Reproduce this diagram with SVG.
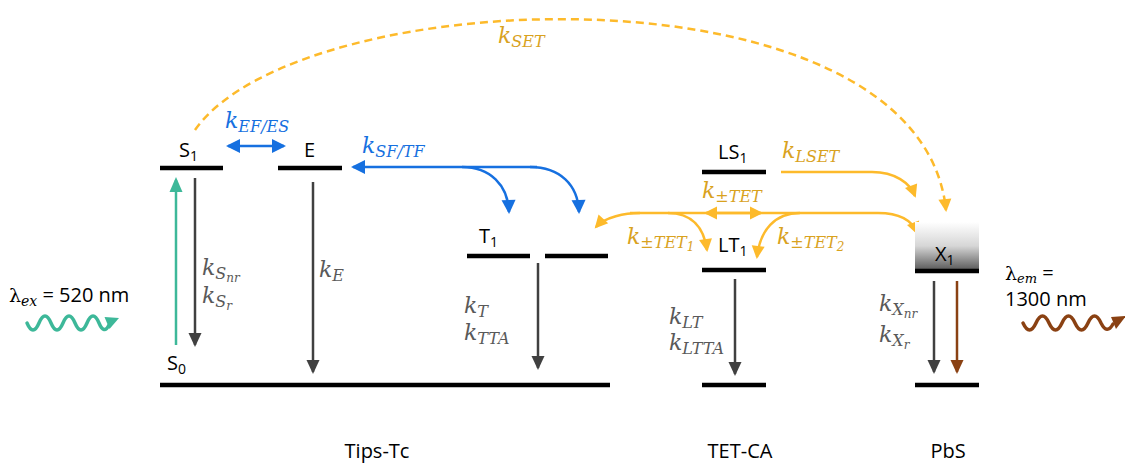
<svg xmlns="http://www.w3.org/2000/svg" width="1125" height="465" viewBox="0 0 1125 465">
<style>
.lvl{stroke:#000;stroke-width:4.5;fill:none}
.lab{font-family:"Open Sans","Noto Sans",sans-serif;font-size:20px;fill:#000}
.m{font-family:"DejaVu Serif","Liberation Serif",serif;font-style:italic;font-size:22px}
.s{font-size:16px}
.ss{font-size:12px}
.gl{fill:#595959}
.ol{fill:#D9A21E}
.bl{fill:#1670E0}
.ga{stroke:#404040;stroke-width:2.5;fill:none}
.oa{stroke:#FDBA2B;stroke-width:2.5;fill:none}
.ba{stroke:#1670E0;stroke-width:2.5;fill:none}
</style>
<defs>
<linearGradient id="xg" x1="0" y1="0" x2="0" y2="1">
<stop offset="0" stop-color="#ffffff"/>
<stop offset="0.5" stop-color="#d6d6d6"/>
<stop offset="1" stop-color="#5a5a5a"/>
</linearGradient>
<marker id="ag" markerUnits="userSpaceOnUse" markerWidth="16" markerHeight="14" refX="12" refY="6.5" orient="auto" overflow="visible"><path d="M0,0 L14,6.5 L0,13 z" fill="#404040"/></marker>
<marker id="at" markerUnits="userSpaceOnUse" markerWidth="16" markerHeight="14" refX="12" refY="6.5" orient="auto" overflow="visible"><path d="M0,0 L15,6.5 L0,13 z" fill="#3DB899"/></marker>
<marker id="ab" markerUnits="userSpaceOnUse" markerWidth="16" markerHeight="14" refX="12" refY="6.5" orient="auto-start-reverse" overflow="visible"><path d="M0,0 L14,6.5 L0,13 z" fill="#8A4113"/></marker>
<marker id="abl" markerUnits="userSpaceOnUse" markerWidth="16" markerHeight="14" refX="12" refY="7" orient="auto-start-reverse" overflow="visible"><path d="M0,0 L14,7 L0,14 z" fill="#1670E0"/></marker>
<marker id="ao" markerUnits="userSpaceOnUse" markerWidth="16" markerHeight="14" refX="11" refY="6.5" orient="auto-start-reverse" overflow="visible"><path d="M0,0 L13,6.5 L0,13 z" fill="#FDBA2B"/></marker>
</defs>

<g id="connectors">
<path d="M195,130 C300,-20 920,-40 946,210" class="oa" stroke-dasharray="8 5" marker-end="url(#ao)"/>
<line x1="195" y1="178" x2="195" y2="345" class="ga" marker-end="url(#ag)"/>
<line x1="313" y1="182" x2="313" y2="372" class="ga" marker-end="url(#ag)"/>
<line x1="538" y1="263" x2="538" y2="368" class="ga" marker-end="url(#ag)"/>
<line x1="735" y1="279" x2="735" y2="374" class="ga" marker-end="url(#ag)"/>
<line x1="934" y1="281" x2="934" y2="372" class="ga" marker-end="url(#ag)"/>
<line x1="957" y1="281" x2="957" y2="372" stroke="#8A4113" stroke-width="2.5" marker-end="url(#ab)"/>
<line x1="176" y1="345" x2="176" y2="180" stroke="#3DB899" stroke-width="2.5" marker-end="url(#at)"/>
<line x1="228" y1="146" x2="284" y2="146" class="ba" marker-start="url(#abl)" marker-end="url(#abl)"/>
<path d="M537,167 L353,167" class="ba" marker-end="url(#abl)"/>
<path d="M462,167 C490,167 508,185 509,212" class="ba" marker-end="url(#abl)"/>
<path d="M530,167 C560,167 578,185 579,212" class="ba" marker-end="url(#abl)"/>
<path d="M781,172 L872,172 C895,172 910,183 915,196" class="oa" marker-end="url(#ao)"/>
<path d="M640,213 C625,213 605,217 596,227" class="oa" marker-end="url(#ao)"/>
<path d="M630,213 L878,213 C900,213 912,220 917,233" class="oa" marker-end="url(#ao)"/>
<line x1="706" y1="213" x2="761" y2="213" class="oa" marker-start="url(#ao)" marker-end="url(#ao)"/>
<path d="M668,213 C692,213 704,228 707,250" class="oa" marker-end="url(#ao)"/>
<path d="M800,213 C775,213 760,230 757,257" class="oa" marker-end="url(#ao)"/>
<path d="M27,323 q6,14 12,0 q6,-14 12,0 q6,14 12,0 q6,-14 12,0 q6,14 12,0 q6,-14 12,0 q5,12 10,2" stroke="#3DB899" stroke-width="3.5" fill="none" stroke-linecap="round"/>
<polygon points="119,318 104.5,317 109.5,329" fill="#3DB899"/>
<path d="M1023,323 q6.5,14 13,0 q6.5,-14 13,0 q6.5,14 13,0 q6.5,-14 13,0 q6.5,14 13,0 q6.5,-14 13,0 q6,12 12,1" stroke="#8A4113" stroke-width="3.5" fill="none" stroke-linecap="round"/>
<polygon points="1126,316 1111,317 1116,329" fill="#8A4113"/>
</g>

<g id="S1"><line x1="160" y1="168" x2="223" y2="168" class="lvl"/><text x="179" y="157" class="lab">S<tspan font-size="14" dy="4">1</tspan></text></g>
<g id="E"><line x1="278" y1="168" x2="342" y2="168" class="lvl"/><text x="304" y="157" class="lab">E</text></g>
<g id="T1"><line x1="467" y1="256" x2="530" y2="256" class="lvl"/><line x1="545" y1="256" x2="608" y2="256" class="lvl"/><text x="479" y="243" class="lab">T<tspan font-size="14" dy="4">1</tspan></text></g>
<g id="S0"><line x1="160" y1="385" x2="610" y2="385" class="lvl"/><text x="167" y="370" class="lab">S<tspan font-size="14" dy="4">0</tspan></text></g>
<g id="LS1"><line x1="702" y1="172" x2="766" y2="172" class="lvl"/><text x="718" y="159" class="lab">LS<tspan font-size="14" dy="4">1</tspan></text></g>
<g id="LT1"><line x1="702" y1="270" x2="766" y2="270" class="lvl"/><text x="718" y="252" class="lab">LT<tspan font-size="14" dy="4">1</tspan></text></g>
<g id="LG"><line x1="702" y1="385" x2="766" y2="385" class="lvl"/></g>
<g id="X1"><rect x="915" y="222" width="64" height="48" fill="url(#xg)"/><line x1="915" y1="271" x2="979" y2="271" class="lvl"/><text x="935" y="261" class="lab">X<tspan font-size="14" dy="4">1</tspan></text></g>
<g id="XG"><line x1="915" y1="385" x2="979" y2="385" class="lvl"/></g>

<g id="labels">
<text x="498" y="43" class="m ol">k<tspan class="s" dy="4">SET</tspan></text>
<text x="225" y="128" class="m bl">k<tspan class="s" dy="4">EF/ES</tspan></text>
<text x="362" y="153" class="m bl">k<tspan class="s" dy="4">SF/TF</tspan></text>
<text x="782" y="158" class="m ol">k<tspan class="s" dy="4">LSET</tspan></text>
<text x="702" y="198" class="m ol">k<tspan class="s" dy="4">±TET</tspan></text>
<text x="627" y="244" class="m ol">k<tspan class="s" dy="4">±TET</tspan><tspan class="ss" dy="3">1</tspan></text>
<text x="777" y="244" class="m ol">k<tspan class="s" dy="4">±TET</tspan><tspan class="ss" dy="3">2</tspan></text>
<text x="202" y="275" class="m gl">k<tspan class="s" dy="4">S</tspan><tspan class="ss" dy="3">nr</tspan></text>
<text x="202" y="303" class="m gl">k<tspan class="s" dy="4">S</tspan><tspan class="ss" dy="3">r</tspan></text>
<text x="319" y="277" class="m gl">k<tspan class="s" dy="4">E</tspan></text>
<text x="464" y="313" class="m gl">k<tspan class="s" dy="4">T</tspan></text>
<text x="464" y="340" class="m gl">k<tspan class="s" dy="4">TTA</tspan></text>
<text x="669" y="324" class="m gl">k<tspan class="s" dy="4">LT</tspan></text>
<text x="669" y="350" class="m gl">k<tspan class="s" dy="4">LTTA</tspan></text>
<text x="879" y="311" class="m gl">k<tspan class="s" dy="4">X</tspan><tspan class="ss" dy="3">nr</tspan></text>
<text x="879" y="342" class="m gl">k<tspan class="s" dy="4">X</tspan><tspan class="ss" dy="3">r</tspan></text>
<text x="9" y="302" class="lab"><tspan style="font-family:'DejaVu Serif',serif;font-size:19px">λ</tspan><tspan style="font-family:'DejaVu Serif',serif;font-style:italic;font-size:14px" dy="4">ex</tspan><tspan dy="-4"> = 520 nm</tspan></text>
<text x="1005" y="280" class="lab"><tspan style="font-family:'DejaVu Serif',serif;font-size:19px">λ</tspan><tspan style="font-family:'DejaVu Serif',serif;font-style:italic;font-size:13px" dy="3">em</tspan><tspan dy="-3"> =</tspan></text>
<text x="1005" y="306" class="lab">1300 nm</text>
<text x="377" y="458" class="lab" text-anchor="middle">Tips-Tc</text>
<text x="740" y="458" class="lab" text-anchor="middle">TET-CA</text>
<text x="948" y="458" class="lab" text-anchor="middle">PbS</text>
</g>
</svg>
